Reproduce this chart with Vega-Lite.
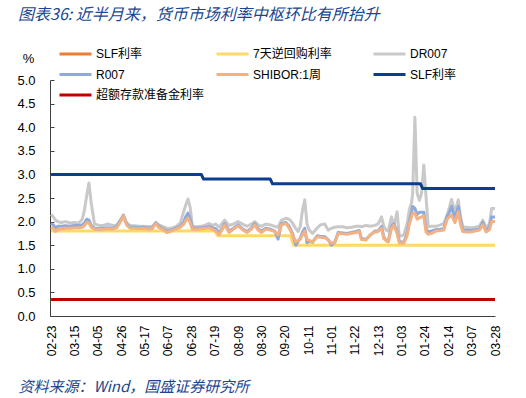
{
  "$schema": "https://vega.github.io/schema/vega-lite/v6.json",
  "width": 445,
  "height": 236,
  "autosize": {"type": "none"},
  "padding": {"left": 50, "top": 80, "right": 31, "bottom": 82},
  "background": "white",
  "config": {
    "view": {"stroke": null},
    "font": "Liberation Sans, Noto Sans CJK SC",
    "title": {"fontSize": 16}
  },
  "title": {
    "text": "图表36: 近半月来，货币市场利率中枢环比有所抬升",
    "anchor": "start",
    "frame": "group",
    "dx": -32,
    "dy": -18,
    "font": "Noto Sans CJK SC",
    "fontSize": 16,
    "fontStyle": "italic",
    "fontWeight": "normal",
    "color": "#1a4590"
  },
  "datasets": {
    "main": [
      {"d":"2024-02-23","dr":2.15,"r":1.96,"sh":1.88},
      {"d":"2024-02-25","dr":2.1,"r":1.93,"sh":1.85},
      {"d":"2024-02-27","dr":2.03,"r":1.86,"sh":1.79},
      {"d":"2024-02-29","dr":2.0,"r":1.9,"sh":1.84},
      {"d":"2024-03-03","dr":1.98,"r":1.9,"sh":1.85},
      {"d":"2024-03-07","dr":2.0,"r":1.91,"sh":1.86},
      {"d":"2024-03-11","dr":1.97,"r":1.9,"sh":1.86},
      {"d":"2024-03-15","dr":1.98,"r":1.92,"sh":1.87},
      {"d":"2024-03-19","dr":1.97,"r":1.92,"sh":1.87},
      {"d":"2024-03-22","dr":2.05,"r":1.93,"sh":1.88},
      {"d":"2024-03-24","dr":2.25,"r":1.97,"sh":1.92},
      {"d":"2024-03-26","dr":2.55,"r":2.05,"sh":1.98},
      {"d":"2024-03-28","dr":2.82,"r":2.03,"sh":1.97},
      {"d":"2024-03-30","dr":2.4,"r":1.92,"sh":1.88},
      {"d":"2024-04-02","dr":1.95,"r":1.86,"sh":1.84},
      {"d":"2024-04-06","dr":1.92,"r":1.85,"sh":1.83},
      {"d":"2024-04-10","dr":1.92,"r":1.86,"sh":1.84},
      {"d":"2024-04-14","dr":1.95,"r":1.87,"sh":1.85},
      {"d":"2024-04-18","dr":1.92,"r":1.86,"sh":1.84},
      {"d":"2024-04-22","dr":1.93,"r":1.89,"sh":1.87},
      {"d":"2024-04-25","dr":2.02,"r":2.02,"sh":1.98},
      {"d":"2024-04-28","dr":2.08,"r":2.14,"sh":2.12},
      {"d":"2024-05-01","dr":1.97,"r":1.95,"sh":1.92},
      {"d":"2024-05-04","dr":1.92,"r":1.88,"sh":1.86},
      {"d":"2024-05-08","dr":1.91,"r":1.88,"sh":1.86},
      {"d":"2024-05-12","dr":1.9,"r":1.87,"sh":1.85},
      {"d":"2024-05-16","dr":1.9,"r":1.88,"sh":1.86},
      {"d":"2024-05-20","dr":1.89,"r":1.86,"sh":1.84},
      {"d":"2024-05-24","dr":1.9,"r":1.87,"sh":1.85},
      {"d":"2024-05-27","dr":1.97,"r":1.98,"sh":1.96},
      {"d":"2024-05-30","dr":1.93,"r":1.9,"sh":1.87},
      {"d":"2024-06-02","dr":1.9,"r":1.86,"sh":1.84},
      {"d":"2024-06-06","dr":1.86,"r":1.8,"sh":1.77},
      {"d":"2024-06-10","dr":1.86,"r":1.82,"sh":1.8},
      {"d":"2024-06-14","dr":1.89,"r":1.86,"sh":1.84},
      {"d":"2024-06-18","dr":1.97,"r":1.9,"sh":1.88},
      {"d":"2024-06-21","dr":2.2,"r":1.98,"sh":1.94},
      {"d":"2024-06-23","dr":2.35,"r":2.1,"sh":2.02},
      {"d":"2024-06-25","dr":2.48,"r":2.18,"sh":2.08},
      {"d":"2024-06-27","dr":2.3,"r":2.05,"sh":1.97},
      {"d":"2024-06-29","dr":1.9,"r":1.87,"sh":1.84},
      {"d":"2024-07-03","dr":1.89,"r":1.86,"sh":1.84},
      {"d":"2024-07-07","dr":1.9,"r":1.87,"sh":1.85},
      {"d":"2024-07-11","dr":1.93,"r":1.88,"sh":1.86},
      {"d":"2024-07-14","dr":1.96,"r":1.9,"sh":1.87},
      {"d":"2024-07-17","dr":1.92,"r":1.87,"sh":1.84},
      {"d":"2024-07-20","dr":1.95,"r":1.85,"sh":1.8},
      {"d":"2024-07-23","dr":1.88,"r":1.76,"sh":1.72},
      {"d":"2024-07-26","dr":1.97,"r":1.86,"sh":1.84},
      {"d":"2024-07-28","dr":2.03,"r":1.96,"sh":1.93},
      {"d":"2024-08-01","dr":1.92,"r":1.8,"sh":1.77},
      {"d":"2024-08-05","dr":1.95,"r":1.86,"sh":1.84},
      {"d":"2024-08-09","dr":2.0,"r":1.93,"sh":1.91},
      {"d":"2024-08-13","dr":1.95,"r":1.85,"sh":1.83},
      {"d":"2024-08-17","dr":1.9,"r":1.79,"sh":1.77},
      {"d":"2024-08-21","dr":1.95,"r":1.86,"sh":1.84},
      {"d":"2024-08-24","dr":2.0,"r":1.96,"sh":1.93},
      {"d":"2024-08-27","dr":1.93,"r":1.85,"sh":1.82},
      {"d":"2024-08-30","dr":1.9,"r":1.8,"sh":1.77},
      {"d":"2024-09-03","dr":1.95,"r":1.86,"sh":1.84},
      {"d":"2024-09-07","dr":1.93,"r":1.84,"sh":1.82},
      {"d":"2024-09-11","dr":1.9,"r":1.8,"sh":1.79},
      {"d":"2024-09-14","dr":1.88,"r":1.63,"sh":1.72},
      {"d":"2024-09-17","dr":2.03,"r":1.96,"sh":1.93},
      {"d":"2024-09-21","dr":2.07,"r":1.98,"sh":1.96},
      {"d":"2024-09-24","dr":2.05,"r":1.9,"sh":1.86},
      {"d":"2024-09-27","dr":1.97,"r":1.75,"sh":1.72},
      {"d":"2024-09-30","dr":1.85,"r":1.5,"sh":1.57},
      {"d":"2024-10-02","dr":1.79,"r":1.58,"sh":1.6},
      {"d":"2024-10-04","dr":1.9,"r":1.65,"sh":1.63},
      {"d":"2024-10-06","dr":2.25,"r":1.78,"sh":1.72},
      {"d":"2024-10-08","dr":2.46,"r":1.86,"sh":1.8},
      {"d":"2024-10-10","dr":1.95,"r":1.55,"sh":1.62},
      {"d":"2024-10-12","dr":1.82,"r":1.58,"sh":1.6},
      {"d":"2024-10-15","dr":1.75,"r":1.56,"sh":1.57},
      {"d":"2024-10-19","dr":1.86,"r":1.7,"sh":1.68},
      {"d":"2024-10-22","dr":1.93,"r":1.69,"sh":1.67},
      {"d":"2024-10-26","dr":1.95,"r":1.68,"sh":1.66},
      {"d":"2024-10-29","dr":1.82,"r":1.62,"sh":1.61},
      {"d":"2024-11-01","dr":1.86,"r":1.5,"sh":1.54},
      {"d":"2024-11-04","dr":1.88,"r":1.56,"sh":1.56},
      {"d":"2024-11-07","dr":1.89,"r":1.77,"sh":1.75},
      {"d":"2024-11-11","dr":1.89,"r":1.76,"sh":1.74},
      {"d":"2024-11-15","dr":1.87,"r":1.75,"sh":1.73},
      {"d":"2024-11-19","dr":1.88,"r":1.77,"sh":1.75},
      {"d":"2024-11-23","dr":1.9,"r":1.79,"sh":1.77},
      {"d":"2024-11-26","dr":1.9,"r":1.81,"sh":1.79},
      {"d":"2024-11-28","dr":1.89,"r":1.64,"sh":1.62},
      {"d":"2024-12-02","dr":1.92,"r":1.62,"sh":1.61},
      {"d":"2024-12-06","dr":1.9,"r":1.72,"sh":1.72},
      {"d":"2024-12-10","dr":1.92,"r":1.8,"sh":1.78},
      {"d":"2024-12-13","dr":1.95,"r":1.8,"sh":1.79},
      {"d":"2024-12-16","dr":2.1,"r":1.9,"sh":1.86},
      {"d":"2024-12-18","dr":1.9,"r":1.68,"sh":1.64},
      {"d":"2024-12-20","dr":1.82,"r":1.6,"sh":1.6},
      {"d":"2024-12-22","dr":1.8,"r":1.58,"sh":1.57},
      {"d":"2024-12-25","dr":2.1,"r":1.9,"sh":1.86},
      {"d":"2024-12-27","dr":1.88,"r":1.95,"sh":1.92},
      {"d":"2024-12-30","dr":2.21,"r":1.8,"sh":1.75},
      {"d":"2025-01-01","dr":1.68,"r":1.58,"sh":1.55},
      {"d":"2025-01-05","dr":1.72,"r":1.56,"sh":1.54},
      {"d":"2025-01-08","dr":1.95,"r":1.75,"sh":1.7},
      {"d":"2025-01-10","dr":2.25,"r":2.0,"sh":1.95},
      {"d":"2025-01-12","dr":2.4,"r":2.2,"sh":2.1},
      {"d":"2025-01-13","dr":2.6,"r":2.32,"sh":2.17},
      {"d":"2025-01-15","dr":4.21,"r":2.28,"sh":2.18},
      {"d":"2025-01-17","dr":2.6,"r":2.15,"sh":2.05},
      {"d":"2025-01-19","dr":2.45,"r":2.2,"sh":2.08},
      {"d":"2025-01-21","dr":2.6,"r":2.2,"sh":2.1},
      {"d":"2025-01-23","dr":3.2,"r":2.2,"sh":2.12},
      {"d":"2025-01-25","dr":2.53,"r":1.85,"sh":1.78},
      {"d":"2025-01-27","dr":1.89,"r":1.78,"sh":1.73},
      {"d":"2025-01-30","dr":1.9,"r":1.8,"sh":1.75},
      {"d":"2025-02-03","dr":1.9,"r":1.83,"sh":1.8},
      {"d":"2025-02-07","dr":1.93,"r":1.84,"sh":1.81},
      {"d":"2025-02-10","dr":1.96,"r":1.85,"sh":1.82},
      {"d":"2025-02-13","dr":2.14,"r":2.12,"sh":2.05},
      {"d":"2025-02-15","dr":2.3,"r":2.2,"sh":2.1},
      {"d":"2025-02-17","dr":2.47,"r":2.32,"sh":2.14},
      {"d":"2025-02-20","dr":2.2,"r":2.05,"sh":1.98},
      {"d":"2025-02-23","dr":2.46,"r":2.32,"sh":2.21},
      {"d":"2025-02-25","dr":2.1,"r":2.05,"sh":1.95},
      {"d":"2025-02-27","dr":1.89,"r":1.82,"sh":1.79},
      {"d":"2025-03-02","dr":1.88,"r":1.82,"sh":1.78},
      {"d":"2025-03-06","dr":1.87,"r":1.81,"sh":1.78},
      {"d":"2025-03-10","dr":1.88,"r":1.83,"sh":1.8},
      {"d":"2025-03-14","dr":1.9,"r":1.84,"sh":1.82},
      {"d":"2025-03-17","dr":2.03,"r":1.98,"sh":1.93},
      {"d":"2025-03-20","dr":1.87,"r":1.8,"sh":1.78},
      {"d":"2025-03-23","dr":1.95,"r":1.88,"sh":1.83},
      {"d":"2025-03-25","dr":2.28,"r":2.1,"sh":2.0},
      {"d":"2025-03-28","dr":2.28,"r":2.1,"sh":2.0}
    ],
    "slf": [
      {"d":"2024-02-23","v":3.0},
      {"d":"2024-07-07","v":3.0},
      {"d":"2024-07-09","v":2.9},
      {"d":"2024-09-07","v":2.9},
      {"d":"2024-09-09","v":2.8},
      {"d":"2025-01-20","v":2.8},
      {"d":"2025-01-22","v":2.7},
      {"d":"2025-03-28","v":2.7}
    ],
    "rr": [
      {"d":"2024-02-23","v":1.8},
      {"d":"2024-07-19","v":1.8},
      {"d":"2024-07-22","v":1.7},
      {"d":"2024-09-25","v":1.7},
      {"d":"2024-09-28","v":1.5},
      {"d":"2025-03-28","v":1.5}
    ],
    "er": [
      {"d":"2024-02-23","v":0.35},
      {"d":"2025-03-28","v":0.35}
    ]
  },
  "encoding": {
    "x": {
      "field": "d",
      "type": "temporal",
      "scale": {
        "type": "utc",
        "domain": [
          {"year": 2024, "month": 2, "date": 22, "utc": true},
          {"year": 2025, "month": 3, "date": 28, "utc": true}
        ]
      },
      "axis": {
        "values": [
          {"year": 2024, "month": 2, "date": 23, "utc": true},
          {"year": 2024, "month": 3, "date": 15, "utc": true},
          {"year": 2024, "month": 4, "date": 5, "utc": true},
          {"year": 2024, "month": 4, "date": 26, "utc": true},
          {"year": 2024, "month": 5, "date": 17, "utc": true},
          {"year": 2024, "month": 6, "date": 7, "utc": true},
          {"year": 2024, "month": 6, "date": 28, "utc": true},
          {"year": 2024, "month": 7, "date": 19, "utc": true},
          {"year": 2024, "month": 8, "date": 9, "utc": true},
          {"year": 2024, "month": 8, "date": 30, "utc": true},
          {"year": 2024, "month": 9, "date": 20, "utc": true},
          {"year": 2024, "month": 10, "date": 11, "utc": true},
          {"year": 2024, "month": 11, "date": 1, "utc": true},
          {"year": 2024, "month": 11, "date": 22, "utc": true},
          {"year": 2024, "month": 12, "date": 13, "utc": true},
          {"year": 2025, "month": 1, "date": 3, "utc": true},
          {"year": 2025, "month": 1, "date": 24, "utc": true},
          {"year": 2025, "month": 2, "date": 14, "utc": true},
          {"year": 2025, "month": 3, "date": 7, "utc": true},
          {"year": 2025, "month": 3, "date": 28, "utc": true}
        ],
        "format": "%m-%d",
        "labelAngle": 270,
        "labelFontSize": 12,
        "labelColor": "#000000",
        "labelPadding": 9,
        "labelFont": "Liberation Sans",
        "ticks": false,
        "grid": false,
        "domainColor": "#404040",
        "labelOverlap": false,
        "title": "资料来源：Wind，国盛证券研究所",
        "titleFont": "Noto Sans CJK SC",
        "titleFontSize": 15,
        "titleFontStyle": "italic",
        "titleFontWeight": "normal",
        "titleColor": "#1a4590",
        "titleAlign": "left",
        "titleAnchor": "start",
        "titleBaseline": "middle",
        "titleX": -32,
        "titleY": 70
      }
    },
    "y": {
      "field": "v",
      "type": "quantitative",
      "scale": {"domain": [0, 5], "nice": false, "zero": true},
      "axis": {
        "values": [0, 0.5, 1, 1.5, 2, 2.5, 3, 3.5, 4, 4.5, 5],
        "format": ".1f",
        "grid": false,
        "labelFontSize": 13,
        "labelColor": "#000000",
        "labelFont": "Liberation Sans",
        "tickSize": -4,
        "tickColor": "#404040",
        "labelPadding": 19,
        "domainColor": "#404040",
        "title": "%",
        "titleAngle": 0,
        "titleFontSize": 13,
        "titleFontWeight": "normal",
        "titleColor": "#000000",
        "titleFont": "Liberation Sans",
        "titleAlign": "center",
        "titleBaseline": "middle",
        "titleX": -22,
        "titleY": -22
      }
    }
  },
  "layer": [
    {
      "data": {"name": "rr"},
      "mark": {"type": "line", "strokeWidth": 3, "strokeJoin": "round"},
      "encoding": {
        "color": {
          "datum": "RR7",
          "type": "nominal",
          "scale": {
            "domain": ["SLF_o", "RR7", "DR007", "R007", "SHIBOR", "SLF", "ER"],
            "range": ["#ED7D31", "#FFD966", "#C9C9C9", "#8EA9DB", "#F4B183", "#0B3D91", "#C00000"]
          },
          "legend": {
            "orient": "none",
            "direction": "horizontal",
            "legendX": 8,
            "legendY": -35,
            "columns": 3,
            "gridAlign": "all",
            "columnPadding": 10,
            "rowPadding": 2.5,
            "clipHeight": 18,
            "padding": 0,
            "symbolType": "stroke",
            "symbolSize": 1024,
            "symbolStrokeWidth": 3,
            "labelOffset": 3,
            "labelFontSize": 12,
            "labelColor": "#000000",
            "labelFont": "Liberation Sans, Noto Sans CJK SC",
            "labelLimit": 300,
            "title": null,
            "values": ["SLF_o", "RR7", "DR007", "R007", "SHIBOR", "SLF", "ER"],
            "labelExpr": "{'SLF_o':'SLF利率','RR7':'7天逆回购利率','DR007':'DR007','R007':'R007','SHIBOR':'SHIBOR:1周','SLF':'SLF利率','ER':'超额存款准备金利率'}[datum.label]"
          }
        }
      }
    },
    {
      "data": {"name": "main"},
      "transform": [{"fold": ["dr"], "as": ["k", "v"]}],
      "mark": {"type": "line", "strokeWidth": 3, "strokeJoin": "round"},
      "encoding": {"color": {"datum": "DR007", "type": "nominal", "scale": {"domain": ["SLF_o", "RR7", "DR007", "R007", "SHIBOR", "SLF", "ER"]}}}
    },
    {
      "data": {"name": "main"},
      "transform": [{"fold": ["r"], "as": ["k", "v"]}],
      "mark": {"type": "line", "strokeWidth": 3, "strokeJoin": "round"},
      "encoding": {"color": {"datum": "R007", "type": "nominal", "scale": {"domain": ["SLF_o", "RR7", "DR007", "R007", "SHIBOR", "SLF", "ER"]}}}
    },
    {
      "data": {"name": "main"},
      "transform": [{"fold": ["sh"], "as": ["k", "v"]}],
      "mark": {"type": "line", "strokeWidth": 3, "strokeJoin": "round"},
      "encoding": {"color": {"datum": "SHIBOR", "type": "nominal", "scale": {"domain": ["SLF_o", "RR7", "DR007", "R007", "SHIBOR", "SLF", "ER"]}}}
    },
    {
      "data": {"name": "slf"},
      "mark": {"type": "line", "strokeWidth": 3, "strokeJoin": "round"},
      "encoding": {"color": {"datum": "SLF", "type": "nominal", "scale": {"domain": ["SLF_o", "RR7", "DR007", "R007", "SHIBOR", "SLF", "ER"]}}}
    },
    {
      "data": {"name": "er"},
      "mark": {"type": "line", "strokeWidth": 3},
      "encoding": {"color": {"datum": "ER", "type": "nominal", "scale": {"domain": ["SLF_o", "RR7", "DR007", "R007", "SHIBOR", "SLF", "ER"]}}}
    }
  ]
}
